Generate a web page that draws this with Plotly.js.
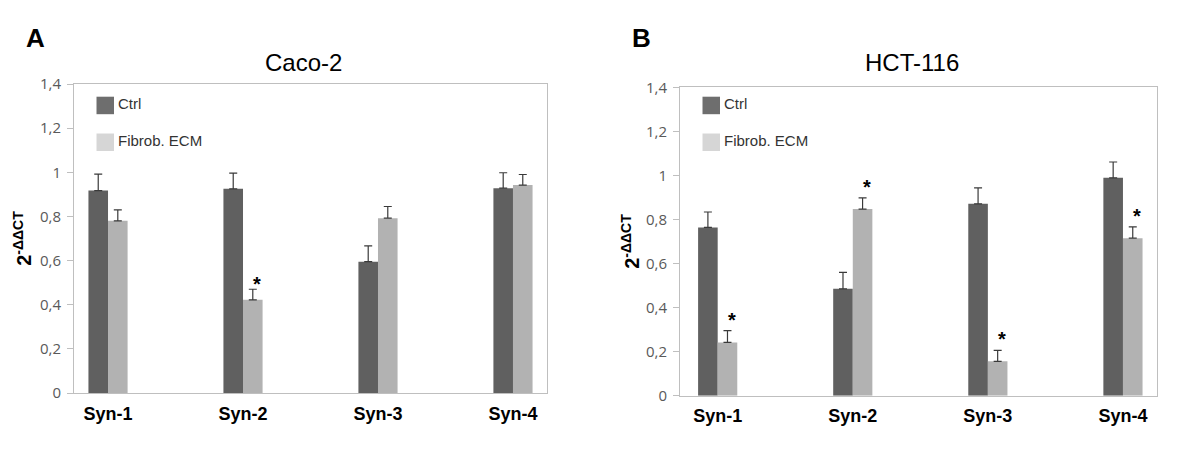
<!DOCTYPE html>
<html>
<head>
<meta charset="utf-8">
<script src="https://cdn.plot.ly/plotly-3.0.1.min.js"></script>
<style>html,body{margin:0;padding:0;background:#fff}#chart{width:1200px;height:459px}</style>
</head>
<body>
<div id="chart"></div>
<script>
// ---- data ----
var categories = ["Syn-1", "Syn-2", "Syn-3", "Syn-4"];
var seriesNames = ["Ctrl", "Fibrob. ECM"];

// Panel A: Caco-2
var cacoCtrl = [0.917, 0.925, 0.595, 0.928];
var cacoCtrlErr = [0.075, 0.071, 0.072, 0.070];
var cacoEcm = [0.780, 0.422, 0.792, 0.942];
var cacoEcmErr = [0.050, 0.048, 0.053, 0.048];
var cacoSig = [false, true, false, false];

// Panel B: HCT-116
var hctCtrl = [0.764, 0.485, 0.871, 0.989];
var hctCtrlErr = [0.070, 0.075, 0.072, 0.072];
var hctEcm = [0.242, 0.847, 0.156, 0.715];
var hctEcmErr = [0.053, 0.051, 0.050, 0.051];
var hctSig = [true, true, true, true];

var yTickVals = [0, 0.2, 0.4, 0.6, 0.8, 1, 1.2, 1.4];
var yTickText = ["0", "0,2", "0,4", "0,6", "0,8", "1", "1,2", "1,4"];

var panelTitles = ["Caco-2", "HCT-116"];
var panelLetters = ["A", "B"];
var yTitle = "2<sup>-ΔΔCT</sup>";

// ---- styles ----
var ctrlColor = "#606060";
var ecmColor = "#b2b2b2";
var ecmLegendColor = "#d6d6d6";
var ctrlLegendColor = "#6e6e6e";
var errColor = "#3a3a3a";
var axisColor = "#bfbfbf";
var W = 1200, H = 459;
var ARIAL = "Liberation Sans, Arial, sans-serif";

function errBar(arr) {
  return {type: "data", symmetric: false, array: arr,
          arrayminus: arr.map(function(){return 0;}),
          color: errColor, thickness: 1.2, width: 4};
}

var traces = [
  {type: "bar", x: categories, y: cacoCtrl, name: seriesNames[0], xaxis: "x", yaxis: "y",
   marker: {color: ctrlColor}, error_y: errBar(cacoCtrlErr), showlegend: false},
  {type: "bar", x: categories, y: cacoEcm, name: seriesNames[1], xaxis: "x", yaxis: "y",
   marker: {color: ecmColor}, error_y: errBar(cacoEcmErr), showlegend: false},
  {type: "bar", x: categories, y: hctCtrl, name: seriesNames[0], xaxis: "x2", yaxis: "y2",
   marker: {color: ctrlColor}, error_y: errBar(hctCtrlErr), showlegend: false},
  {type: "bar", x: categories, y: hctEcm, name: seriesNames[1], xaxis: "x2", yaxis: "y2",
   marker: {color: ecmColor}, error_y: errBar(hctEcmErr), showlegend: false}
];

function xAxis(domainPx, range) {
  return {
    domain: [domainPx[0] / W, domainPx[1] / W],
    range: range, type: "category",
    showline: true, linecolor: axisColor, linewidth: 1, mirror: true,
    ticks: "", showgrid: false, zeroline: false,
    tickfont: {family: ARIAL, size: 18, color: "#000", weight: "bold"},
    ticklabelstandoff: 4,
    fixedrange: true
  };
}
function yAxis(domainPx, standoff) {
  return {
    domain: [(H - domainPx[1]) / H, (H - domainPx[0]) / H],
    range: [0, 1.4],
    tickvals: yTickVals, ticktext: yTickText,
    showline: true, linecolor: axisColor, linewidth: 1, mirror: true,
    ticks: "outside", ticklen: 6, tickcolor: axisColor,
    ticklabelstandoff: 3,
    showgrid: false, zeroline: false,
    tickfont: {family: "Open Sans, sans-serif", size: 15, color: "#595959"},
    title: {text: yTitle, standoff: standoff,
            font: {family: ARIAL, size: 20, color: "#000", weight: "bold"}},
    fixedrange: true
  };
}

var panels = [
  {xa: "x", ya: "y", xpx: [74, 547], ypx: [84, 393], range: [-0.252, 3.252], standoff: 2, starShift: -8,
   ecm: cacoEcm, ecmE: cacoEcmErr, sig: cacoSig},
  {xa: "x2", ya: "y2", xpx: [680, 1157], ypx: [87.3, 395.7], range: [-0.279, 3.252], standoff: 0, starShift: -2,
   ecm: hctEcm, ecmE: hctEcmErr, sig: hctSig}
];

var annotations = [];
var shapes = [];
panels.forEach(function(p, i) {
  var cx = (p.xpx[0] + p.xpx[1]) / 2 - 7;
  annotations.push({xref: "paper", yref: "paper", x: cx / W, y: (H - 63) / H,
    xanchor: "center", yanchor: "middle", showarrow: false, text: panelTitles[i],
    font: {family: ARIAL, size: 24, color: "#000"}});
  annotations.push({xref: "paper", yref: "paper", x: (p.xpx[0] - 50) / W, y: (H - 38) / H,
    xanchor: "left", yanchor: "middle", showarrow: false, text: panelLetters[i],
    font: {family: ARIAL, size: 26, color: "#000", weight: "bold"}});
  var lx0 = p.xpx[0] + 22.5, ly = [96.7, 133.5];
  var lcols = [ctrlLegendColor, ecmLegendColor];
  for (var k = 0; k < 2; k++) {
    shapes.push({type: "rect", xref: "paper", yref: "paper",
      x0: lx0 / W, x1: (lx0 + 17.5) / W, y0: (H - ly[k]) / H, y1: (H - ly[k] - 17.5) / H,
      fillcolor: lcols[k], line: {color: lcols[k], width: 0}});
    annotations.push({xref: "paper", yref: "paper", x: (lx0 + 19.5) / W, y: (H - ly[k] - 7) / H,
      xanchor: "left", yanchor: "middle", showarrow: false, text: seriesNames[k],
      font: {family: ARIAL, size: 15, color: "#333"}});
  }
  categories.forEach(function(c, j) {
    if (!p.sig[j]) return;
    annotations.push({xref: p.xa, yref: p.ya, x: c, y: p.ecm[j] + p.ecmE[j],
      xanchor: "center", yanchor: "bottom", xshift: 14, yshift: p.starShift, showarrow: false,
      text: "*", font: {family: ARIAL, size: 20, color: "#000", weight: "bold"}});
  });
});

var layout = {
  width: W, height: H,
  margin: {l: 0, r: 0, t: 0, b: 0},
  paper_bgcolor: "#fff", plot_bgcolor: "#fff",
  barmode: "group", bargap: 0.71, bargroupgap: 0,
  showlegend: false,
  xaxis: Object.assign(xAxis(panels[0].xpx, panels[0].range), {anchor: "y"}),
  yaxis: Object.assign(yAxis(panels[0].ypx, panels[0].standoff), {anchor: "x"}),
  xaxis2: Object.assign(xAxis(panels[1].xpx, panels[1].range), {anchor: "y2"}),
  yaxis2: Object.assign(yAxis(panels[1].ypx, panels[1].standoff), {anchor: "x2"}),
  annotations: annotations,
  shapes: shapes
};

Plotly.newPlot("chart", traces, layout, {displayModeBar: false, staticPlot: true});
</script>
</body>
</html>
